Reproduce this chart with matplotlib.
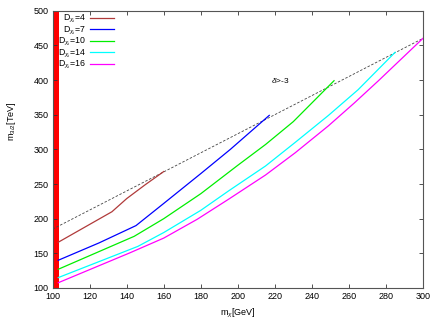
import matplotlib
matplotlib.use("Agg")
import matplotlib.pyplot as plt

plt.rcParams['font.family'] = ['Liberation Sans', 'DejaVu Sans']
plt.rcParams['mathtext.fontset'] = 'custom'
plt.rcParams['mathtext.rm'] = 'Liberation Sans'
plt.rcParams['mathtext.it'] = 'Liberation Sans:italic'

# data
x_d4 = [103, 132, 140, 150, 160]
y_d4 = [166, 210, 229, 249, 268]
x_d7 = [103, 125, 145, 160, 180, 196, 217]
y_d7 = [140, 165, 190, 222, 265, 300, 349]
x_d10 = [103, 144, 160, 180, 200, 215, 230, 252]
y_d10 = [127, 174.5, 200, 236, 277, 307, 340, 399]
x_d14 = [103, 146, 160, 180, 195, 215, 231, 249, 265, 285]
y_d14 = [115, 160, 180, 212, 240, 276, 310, 349, 386, 440]
x_d16 = [103, 141.6, 160, 178, 195, 215, 231, 249, 263, 276, 300]
y_d16 = [107.6, 150.6, 172, 199, 228, 263, 295, 334, 367, 399, 460]
x_bound = [100, 300]
y_bound = [185, 460]
excluded_x = [100, 103.3]

labels = [r'D$_{\chi_i}$=4', r'D$_{\chi_i}$=7', r'D$_{\chi_i}$=10',
          r'D$_{\chi_i}$=14', r'D$_{\chi_i}$=16']
colors = ['#b03a3a', '#0000ff', '#00ee00', '#00ffff', '#ff00ff']
xticks = [100, 120, 140, 160, 180, 200, 220, 240, 260, 280, 300]
yticks = [100, 150, 200, 250, 300, 350, 400, 450, 500]

fig = plt.figure(figsize=(4.36, 3.27), dpi=100)
ax = fig.add_axes([0.1209, 0.1193, 0.849, 0.848])

ax.axvspan(excluded_x[0], excluded_x[1], color='#ff0000', lw=0, zorder=1)

series = [(x_d4, y_d4), (x_d7, y_d7), (x_d10, y_d10), (x_d14, y_d14), (x_d16, y_d16)]
for (xs, ys), c, lab in zip(series, colors, labels):
    ax.plot(xs, ys, color=c, lw=0.9, label=lab, zorder=3)

ax.plot(x_bound, y_bound, color='#444444', lw=0.6, ls=(0, (3, 2)), zorder=2)
ax.text(223, 400, r'$\delta$>-3', fontsize=6, ha='center', va='center')

ax.set_xlim(100, 300)
ax.set_ylim(100, 500)
ax.set_xticks(xticks)
ax.set_yticks(yticks)
ax.tick_params(direction='in', length=3, width=0.6, labelsize=6.5,
               top=True, right=True, colors='#333333', labelcolor='black', pad=3)
for s in ax.spines.values():
    s.set_linewidth(0.8)
    s.set_color('#555555')

ax.set_xlabel(r'm$_\chi$[GeV]', fontsize=6.5, labelpad=4)
ax.set_ylabel(r'm$_{3/2}$[TeV]', fontsize=6.5)
ax.yaxis.set_label_coords(-0.094, 0.60)

leg = ax.legend(loc='upper left', bbox_to_anchor=(0.0, 1.01), frameon=False,
                markerfirst=False, fontsize=6.3, handlelength=2.7,
                handletextpad=0.5, labelspacing=-0.08, borderaxespad=0.2)

fig.savefig('out.png', dpi=100)
